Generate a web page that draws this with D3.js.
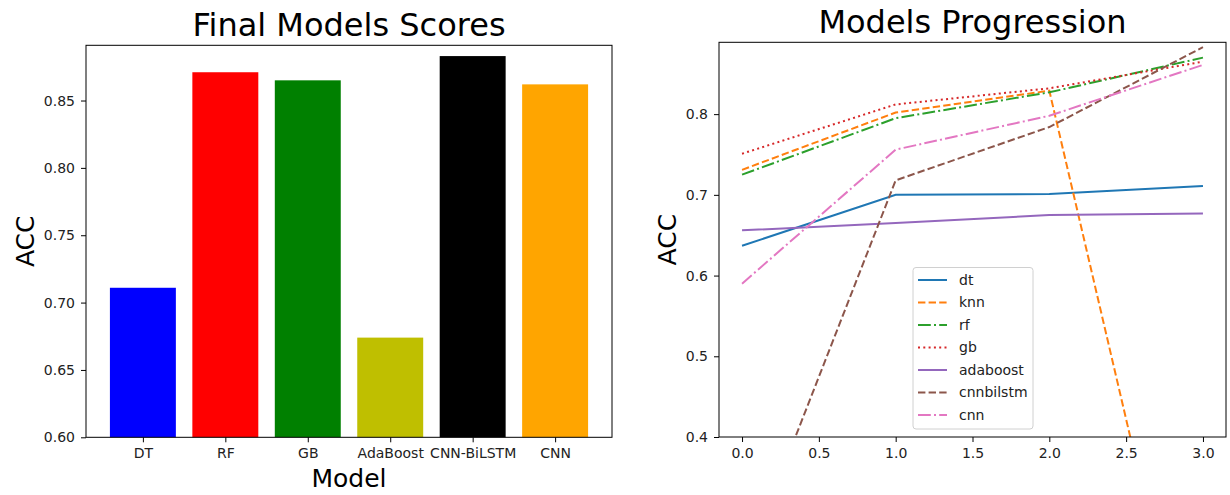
<!DOCTYPE html>
<html>
<head>
<meta charset="utf-8">
<script src="https://cdn.jsdelivr.net/npm/d3@7"></script>
<style>
  html, body { margin: 0; padding: 0; background: #fff; }
  svg { display: block; font-family: "DejaVu Sans", sans-serif; }
</style>
</head>
<body>
<svg id="chart" width="1230" height="495"></svg>
<script>
// ---- Data ----
const categories = ["DT", "RF", "GB", "AdaBoost", "CNN-BiLSTM", "CNN"];
const finalScores = [0.711, 0.871, 0.865, 0.674, 0.883, 0.862];
const barColors = ["#0000ff", "#ff0000", "#008000", "#bfbf00", "#000000", "#ffa500"];
const leftYTicks = [0.60, 0.65, 0.70, 0.75, 0.80, 0.85];

const steps = [0, 1, 2, 3];
const dt = [0.637, 0.700, 0.701, 0.711];
const knn = [0.731, 0.802, 0.829, 0.015];
const rf = [0.725, 0.795, 0.827, 0.870];
const gb = [0.751, 0.812, 0.832, 0.865];
const adaboost = [0.656, 0.665, 0.675, 0.677];
const cnnbilstm = [0.231, 0.718, 0.784, 0.883];
const cnn = [0.590, 0.756, 0.798, 0.861];
const seriesNames = ["dt", "knn", "rf", "gb", "adaboost", "cnnbilstm", "cnn"];
const rightYTicks = [0.4, 0.5, 0.6, 0.7, 0.8];
const rightXTicks = [0.0, 0.5, 1.0, 1.5, 2.0, 2.5, 3.0];

const seriesValues = [dt, knn, rf, gb, adaboost, cnnbilstm, cnn];
const seriesColors = ["#1f77b4", "#ff7f0e", "#2ca02c", "#d62728", "#9467bd", "#8c564b", "#e377c2"];
const seriesDash = ["none", "7.4,3.2", "12.8,3.2,2,3.2", "2,3.3", "none", "7.4,3.2", "12.8,3.2,2,3.2"];

const svg = d3.select("#chart");

function styleAxis(g) {
  g.select(".domain").remove();
  g.selectAll(".tick line").attr("stroke", "#000").attr("stroke-width", 1);
  g.selectAll(".tick text").attr("font-size", 14).attr("fill", "#222")
    .attr("font-family", "DejaVu Sans, sans-serif");
}

// ---- Left chart: bars ----
{
  const L = 86, R = 612, T = 45.3, B = 437.3;
  const x = d3.scaleLinear().domain([-0.69, 5.69]).range([L, R]);
  const y = d3.scaleLinear().domain([0.6, 0.891]).range([B, T]);
  const bw = x(0.8) - x(0);
  const g = svg.append("g");

  g.selectAll("rect.bar").data(finalScores).enter().append("rect")
    .attr("class", "bar")
    .attr("x", (d, i) => x(i) - bw / 2)
    .attr("width", bw)
    .attr("y", d => y(d))
    .attr("height", d => B - y(d))
    .attr("fill", (d, i) => barColors[i]);

  const yAxis = d3.axisLeft(y).tickValues(leftYTicks).tickFormat(d3.format(".2f"))
    .tickSize(5).tickPadding(6);
  g.append("g").attr("transform", `translate(${L},0)`).call(yAxis).call(styleAxis);

  const xAxis = d3.axisBottom(x).tickValues(d3.range(categories.length))
    .tickFormat(i => categories[i]).tickSize(5).tickPadding(6);
  g.append("g").attr("transform", `translate(0,${B})`).call(xAxis).call(styleAxis);

  g.append("rect").attr("x", L).attr("y", T).attr("width", R - L).attr("height", B - T)
    .attr("fill", "none").attr("stroke", "#000").attr("stroke-width", 1);

  g.append("text").attr("x", (L + R) / 2).attr("y", 36).attr("text-anchor", "middle")
    .attr("font-size", 32).text("Final Models Scores");
  g.append("text").attr("x", (L + R) / 2).attr("y", 486.5).attr("text-anchor", "middle")
    .attr("font-size", 25).text("Model");
  g.append("text").attr("transform", `translate(34,${(T + B) / 2}) rotate(-90)`)
    .attr("text-anchor", "middle").attr("font-size", 25).text("ACC");
}

// ---- Right chart: lines ----
{
  const L = 719, R = 1226, T = 42.3, B = 437;
  const x = d3.scaleLinear().domain([-0.15, 3.15]).range([L, R]);
  const y = d3.scaleLinear().domain([0.4, 0.889]).range([B, T]);
  const g = svg.append("g");

  svg.append("defs").append("clipPath").attr("id", "clipR")
    .append("rect").attr("x", L).attr("y", T).attr("width", R - L).attr("height", B - T);

  const line = d3.line().x((d, i) => x(steps[i])).y(d => y(d));
  const lines = g.append("g").attr("clip-path", "url(#clipR)");
  seriesValues.forEach((vals, k) => {
    lines.append("path").datum(vals)
      .attr("d", line)
      .attr("fill", "none")
      .attr("stroke", seriesColors[k])
      .attr("stroke-width", 2)
      .attr("stroke-dasharray", seriesDash[k]);
  });

  const yAxis = d3.axisLeft(y).tickValues(rightYTicks).tickFormat(d3.format(".1f"))
    .tickSize(5).tickPadding(6);
  g.append("g").attr("transform", `translate(${L},0)`).call(yAxis).call(styleAxis);

  const xAxis = d3.axisBottom(x).tickValues(rightXTicks).tickFormat(d3.format(".1f"))
    .tickSize(5).tickPadding(6);
  g.append("g").attr("transform", `translate(0,${B})`).call(xAxis).call(styleAxis);

  g.append("rect").attr("x", L).attr("y", T).attr("width", R - L).attr("height", B - T)
    .attr("fill", "none").attr("stroke", "#000").attr("stroke-width", 1);

  g.append("text").attr("x", (L + R) / 2).attr("y", 33).attr("text-anchor", "middle")
    .attr("font-size", 32).text("Models Progression");
  g.append("text").attr("transform", `translate(676,${(T + B) / 2}) rotate(-90)`)
    .attr("text-anchor", "middle").attr("font-size", 25).text("ACC");

  // legend
  const lg = g.append("g");
  lg.append("rect").attr("x", 913).attr("y", 267.5).attr("width", 120).attr("height", 161.5)
    .attr("rx", 3).attr("fill", "#fff").attr("fill-opacity", 0.8)
    .attr("stroke", "#d0d0d0").attr("stroke-width", 1);
  seriesNames.forEach((name, k) => {
    const yy = 280 + k * 22.5;
    lg.append("line").attr("x1", 918).attr("x2", 947).attr("y1", yy).attr("y2", yy)
      .attr("stroke", seriesColors[k]).attr("stroke-width", 2)
      .attr("stroke-dasharray", seriesDash[k]);
    lg.append("text").attr("x", 959).attr("y", yy).attr("dy", "0.35em")
      .attr("font-size", 14).attr("fill", "#222").text(name);
  });
}
</script>
</body>
</html>
